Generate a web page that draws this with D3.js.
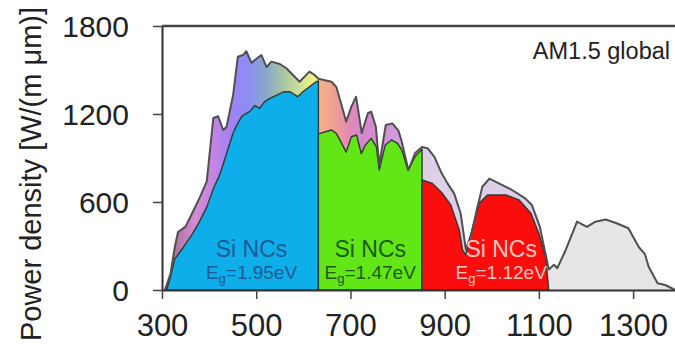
<!DOCTYPE html>
<html>
<head>
<meta charset="utf-8">
<script src="https://cdn.jsdelivr.net/npm/d3@7"></script>
<style>
  html, body { margin: 0; padding: 0; background: #fff; }
  svg { display: block; font-family: Arial, "Liberation Sans", sans-serif; }
</style>
</head>
<body>
<svg id="chart" width="675" height="344"></svg>
<script>
// AM1.5 global spectrum (outer curve)
const spectrumNm = [306, 318, 327, 334, 350, 365, 380, 395, 409, 419, 430, 437, 451, 461, 472, 479, 490, 497, 511, 522, 532, 550, 564, 578, 592, 599, 613, 624, 632,
  660, 670, 680, 691, 702, 712, 724, 737, 744, 754, 761, 775, 789, 802, 809, 823, 837, 852,
  864, 878, 892, 906, 920, 934, 945, 957, 968, 980, 995, 1015, 1043, 1071, 1085, 1102, 1121,
  1132, 1139, 1157, 1181, 1202, 1220, 1242, 1265, 1290, 1312, 1325, 1333, 1352, 1368, 1382, 1390];
const spectrumPower = [0, 110, 290, 395, 432, 530, 630, 740, 1173, 1185, 1090, 1113, 1330, 1590, 1602, 1628, 1548, 1568, 1602, 1520, 1557, 1541, 1512, 1466, 1420, 1443, 1489, 1466, 1440,
  1420, 1384, 1273, 1148, 1250, 1318, 1070, 1205, 1216, 1113, 852, 1125, 1136, 1085, 1011, 818, 932, 975,
  966, 909, 807, 727, 659, 523, 275, 386, 545, 704, 760, 727, 682, 625, 580, 432, 140,
  172, 148, 273, 466, 430, 466, 481, 455, 421, 293, 245, 159, 46, 34, 12, 0];

// absorbed part, Si NCs Eg = 1.95 eV
const blueNm = [310, 318, 327, 345, 365, 380, 395, 409, 423, 433, 451, 458, 469, 479, 486, 497, 507, 518, 529, 545, 557, 571, 588, 599, 613, 627, 632];
const bluePower = [0, 90, 210, 290, 385, 470, 565, 690, 790, 890, 1070, 1120, 1182, 1205, 1216, 1258, 1239, 1284, 1307, 1330, 1350, 1352, 1318, 1352, 1386, 1420, 1425];

// Si NCs Eg = 1.47 eV
const greenNm = [632, 660, 670, 691, 702, 713, 723, 731, 744, 755, 761, 774, 787, 800, 809, 822, 831, 837, 846, 852];
const greenPower = [1065, 1091, 1068, 940, 1045, 1057, 930, 985, 1034, 977, 818, 989, 1023, 1000, 955, 818, 870, 909, 940, 960];

// Si NCs Eg = 1.12 eV
const redNm = [852, 874, 895, 913, 931, 938, 945, 956, 973, 991, 1030, 1058, 1083, 1100, 1114, 1121];
const redPower = [750, 727, 659, 580, 409, 273, 239, 386, 591, 648, 648, 614, 523, 386, 227, 0];

const bandEdgesNm = [300, 632, 852, 1121, 1390];
const bandNames = ['Si NCs', 'Si NCs', 'Si NCs'];
const bandGaps = ['1.95eV', '1.47eV', '1.12eV'];
const labelNm = [490, 742, 1020];

const xTicks = [300, 500, 700, 900, 1100, 1300];
const yTicks = [0, 600, 1200, 1800];

const svg = d3.select('#chart');
const x = d3.scaleLinear().domain([300, 1390]).range([162, 675.5]);
const y = d3.scaleLinear().domain([0, 1800]).range([290, 26]);

const defs = svg.append('defs');

function gradient(id, stops) {
  const g = defs.append('linearGradient').attr('id', id)
    .attr('gradientUnits', 'userSpaceOnUse')
    .attr('x1', x(stops[0][0])).attr('x2', x(stops[stops.length - 1][0]))
    .attr('y1', 0).attr('y2', 0);
  const span = stops[stops.length - 1][0] - stops[0][0];
  stops.forEach(s => g.append('stop')
    .attr('offset', (s[0] - stops[0][0]) / span)
    .attr('stop-color', s[1]));
}

gradient('rainbow', [[306, '#8a6c84'], [335, '#b27aa6'], [370, '#d68ad2'], [410, '#c384e4'],
  [445, '#a282f2'], [480, '#8c8cf6'], [520, '#8aa6cc'], [555, '#a4c4a6'], [592, '#cce098'], [620, '#eef084'], [632, '#f2f27e']]);
gradient('warm', [[632, '#f5b28a'], [665, '#f0a092'], [695, '#e28cb4'], [725, '#d488cc'], [770, '#cf90d8'], [852, '#d8b4e2']]);

const segFills = ['url(#rainbow)', 'url(#warm)', '#dccfe6', '#e6e6e6'];

const spectrum = spectrumNm.map((d, i) => [d, spectrumPower[i]]);
const area = d3.area().x(d => x(d[0])).y0(y(0)).y1(d => y(d[1]));
const line = d3.line().x(d => x(d[0])).y(d => y(d[1]));

// outer spectrum, split into band segments
segFills.forEach((f, i) => {
  defs.append('clipPath').attr('id', 'seg' + i)
    .append('rect')
    .attr('x', x(bandEdgesNm[i])).attr('y', 0)
    .attr('width', x(bandEdgesNm[i + 1]) - x(bandEdgesNm[i]))
    .attr('height', 344);
  svg.append('path').datum(spectrum)
    .attr('d', area)
    .attr('fill', f)
    .attr('clip-path', `url(#seg${i})`);
});

// absorbed areas
const bands = [
  { nm: blueNm, p: bluePower, fill: '#0eaeea', text: '#1b5a92' },
  { nm: greenNm, p: greenPower, fill: '#62e616', text: '#1d5a12' },
  { nm: redNm, p: redPower, fill: '#fb0d0d', text: '#ffc6c0' }
];

bands.forEach(b => {
  svg.append('path').datum(b.nm.map((d, i) => [d, b.p[i]]))
    .attr('d', area)
    .attr('fill', b.fill)
    .attr('stroke', '#2f3a30')
    .attr('stroke-width', 1.4)
    .attr('stroke-linejoin', 'round');
});

svg.append('path').datum(spectrum)
  .attr('d', line)
  .attr('fill', 'none')
  .attr('stroke', '#505050')
  .attr('stroke-width', 2)
  .attr('stroke-linejoin', 'round');

// labels
bands.forEach((b, i) => {
  svg.append('text')
    .attr('x', x(labelNm[i])).attr('y', y(0) - 33)
    .attr('text-anchor', 'middle')
    .attr('font-size', 23)
    .attr('fill', b.text)
    .text(bandNames[i]);
  const t = svg.append('text')
    .attr('x', x(labelNm[i])).attr('y', y(0) - 11)
    .attr('text-anchor', 'middle')
    .attr('font-size', 19)
    .attr('fill', b.text);
  t.append('tspan').text('E');
  t.append('tspan').attr('font-size', 13).attr('dy', 4).text('g');
  t.append('tspan').attr('dy', -4).text('=' + bandGaps[i]);
});

svg.append('text')
  .attr('x', 670).attr('y', 59)
  .attr('text-anchor', 'end')
  .attr('font-size', 23.5)
  .attr('fill', '#222')
  .text('AM1.5 global');

// axes
const gx = svg.append('g').attr('transform', `translate(0,${y(0)})`)
  .call(d3.axisBottom(x).tickValues(xTicks).tickFormat(d3.format('d')).tickSize(9).tickSizeOuter(0));
gx.selectAll('text').attr('y', 46).attr('dy', 0)
  .attr('font-size', 31).attr('fill', '#222');

const gy = svg.append('g').attr('transform', `translate(${x(300)},0)`)
  .call(d3.axisLeft(y).tickValues(yTicks).tickFormat(d3.format('d')).tickSize(9).tickPadding(24).tickSizeOuter(0));
gy.selectAll('text').attr('font-size', 30).attr('fill', '#222').attr('dy', '0.36em');

svg.selectAll('.domain').attr('stroke', '#333').attr('stroke-width', 2);
svg.selectAll('.tick line').attr('stroke', '#444').attr('stroke-width', 1.5);
svg.selectAll('.tick text').attr('font-family', 'Arial, "Liberation Sans", sans-serif');

svg.append('line')
  .attr('x1', x(300)).attr('x2', 675)
  .attr('y1', y(1800)).attr('y2', y(1800))
  .attr('stroke', '#444').attr('stroke-width', 2.5);

svg.append('text')
  .attr('transform', `translate(41,${(y(0) + y(1800)) / 2 + 16}) rotate(-90)`)
  .attr('text-anchor', 'middle')
  .attr('font-size', 29)
  .attr('fill', '#222')
  .text('Power density [W/(m μm)]');
</script>
</body>
</html>
